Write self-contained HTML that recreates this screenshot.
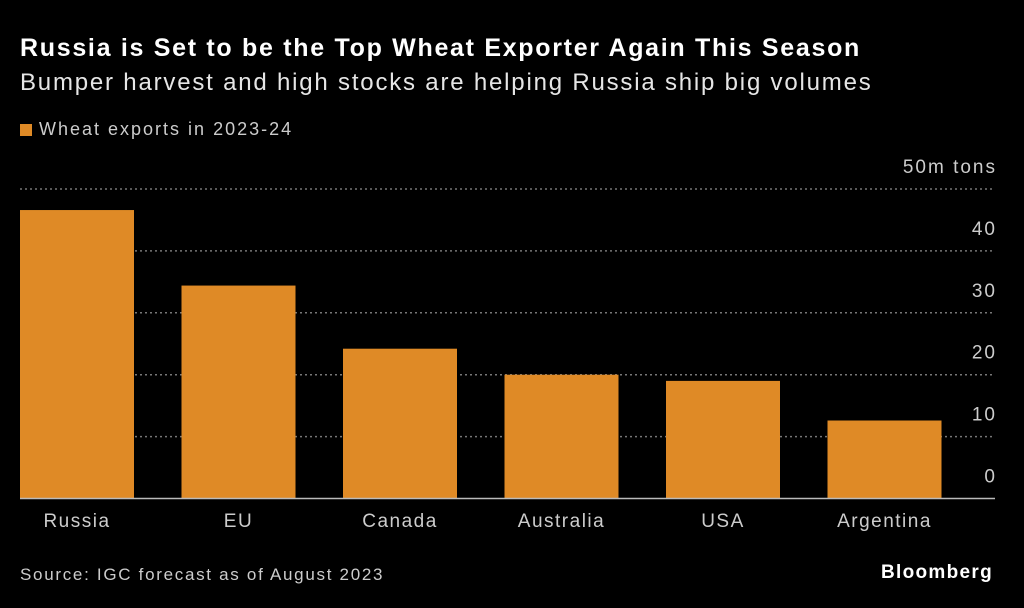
<!DOCTYPE html>
<html><head><meta charset="utf-8"><style>
body{margin:0;background:#000;width:1024px;height:608px;overflow:hidden;font-family:"Liberation Sans",sans-serif;}
.t{position:absolute;white-space:nowrap;}
</style></head><body>
<div class="t" style="left:20px;top:34px;font-size:25px;font-weight:bold;color:#fff;letter-spacing:1.7px;">Russia is Set to be the Top Wheat Exporter Again This Season</div>
<div class="t" style="left:20px;top:69px;font-size:24px;color:#e6e6e6;letter-spacing:1.8px;">Bumper harvest and high stocks are helping Russia ship big volumes</div>
<div class="t" style="left:20px;top:119px;font-size:18px;color:#ccc;letter-spacing:2px;"><span style="display:inline-block;width:12px;height:12px;background:#df8a26;margin-right:7px;vertical-align:-1px;"></span>Wheat exports in 2023-24</div>
<svg id="chart" width="1024" height="608" style="position:absolute;left:0;top:0;"></svg>
<div class="t" style="left:20px;top:565px;font-size:17px;color:#ccc;letter-spacing:1.7px;">Source: IGC forecast as of August 2023</div>
<div class="t" style="left:881px;top:562px;font-size:19px;font-weight:bold;color:#fff;letter-spacing:1.3px;">Bloomberg</div>
<script>
const categories=["Russia","EU","Canada","Australia","USA","Argentina"];
const values=[46.6,34.4,24.2,20.0,19.0,12.6];
const ticks=[0,10,20,30,40,50];
const tickLabels=["0","10","20","30","40","50m tons"];
const svg=document.getElementById('chart');
const NS='http://www.w3.org/2000/svg';
const x0=20,x1=995,y0=498.5,yMax=50,yTop=189;
const y=v=>y0-(v/yMax)*(y0-yTop);
const step=161.5,bw=114;
const bx=i=>x0+i*step;
function mk(t,a){const e=document.createElementNS(NS,t);for(const k in a)e.setAttribute(k,a[k]);svg.appendChild(e);return e;}
ticks.forEach((v,i)=>{
 if(v>0){const l=mk('line',{x1:x0,x2:x1,y1:y(v),y2:y(v),stroke:'#777','stroke-width':1.5,'stroke-dasharray':'2 3'});
 
 }
 const t=mk('text',{x:x1+2,y:y(v)-16,'text-anchor':'end',fill:'#ccc','font-size':19,'letter-spacing':2,'font-family':'Liberation Sans, sans-serif'});
 t.textContent=tickLabels[i];
 
 
});
categories.forEach((c,i)=>{
 const r=mk('rect',{x:bx(i),y:y(values[i]),width:bw,height:y0-y(values[i]),fill:'#df8a26'});
 
 
 const t=mk('text',{x:bx(i)+bw/2,y:527,'text-anchor':'middle',fill:'#ccc','font-size':19,'letter-spacing':1.5,'font-family':'Liberation Sans, sans-serif'});
 t.textContent=c;
 
 
});
const b=mk('line',{x1:x0,x2:x1,y1:y0,y2:y0,stroke:'#bbb','stroke-width':1.5});


</script>
</body></html>
